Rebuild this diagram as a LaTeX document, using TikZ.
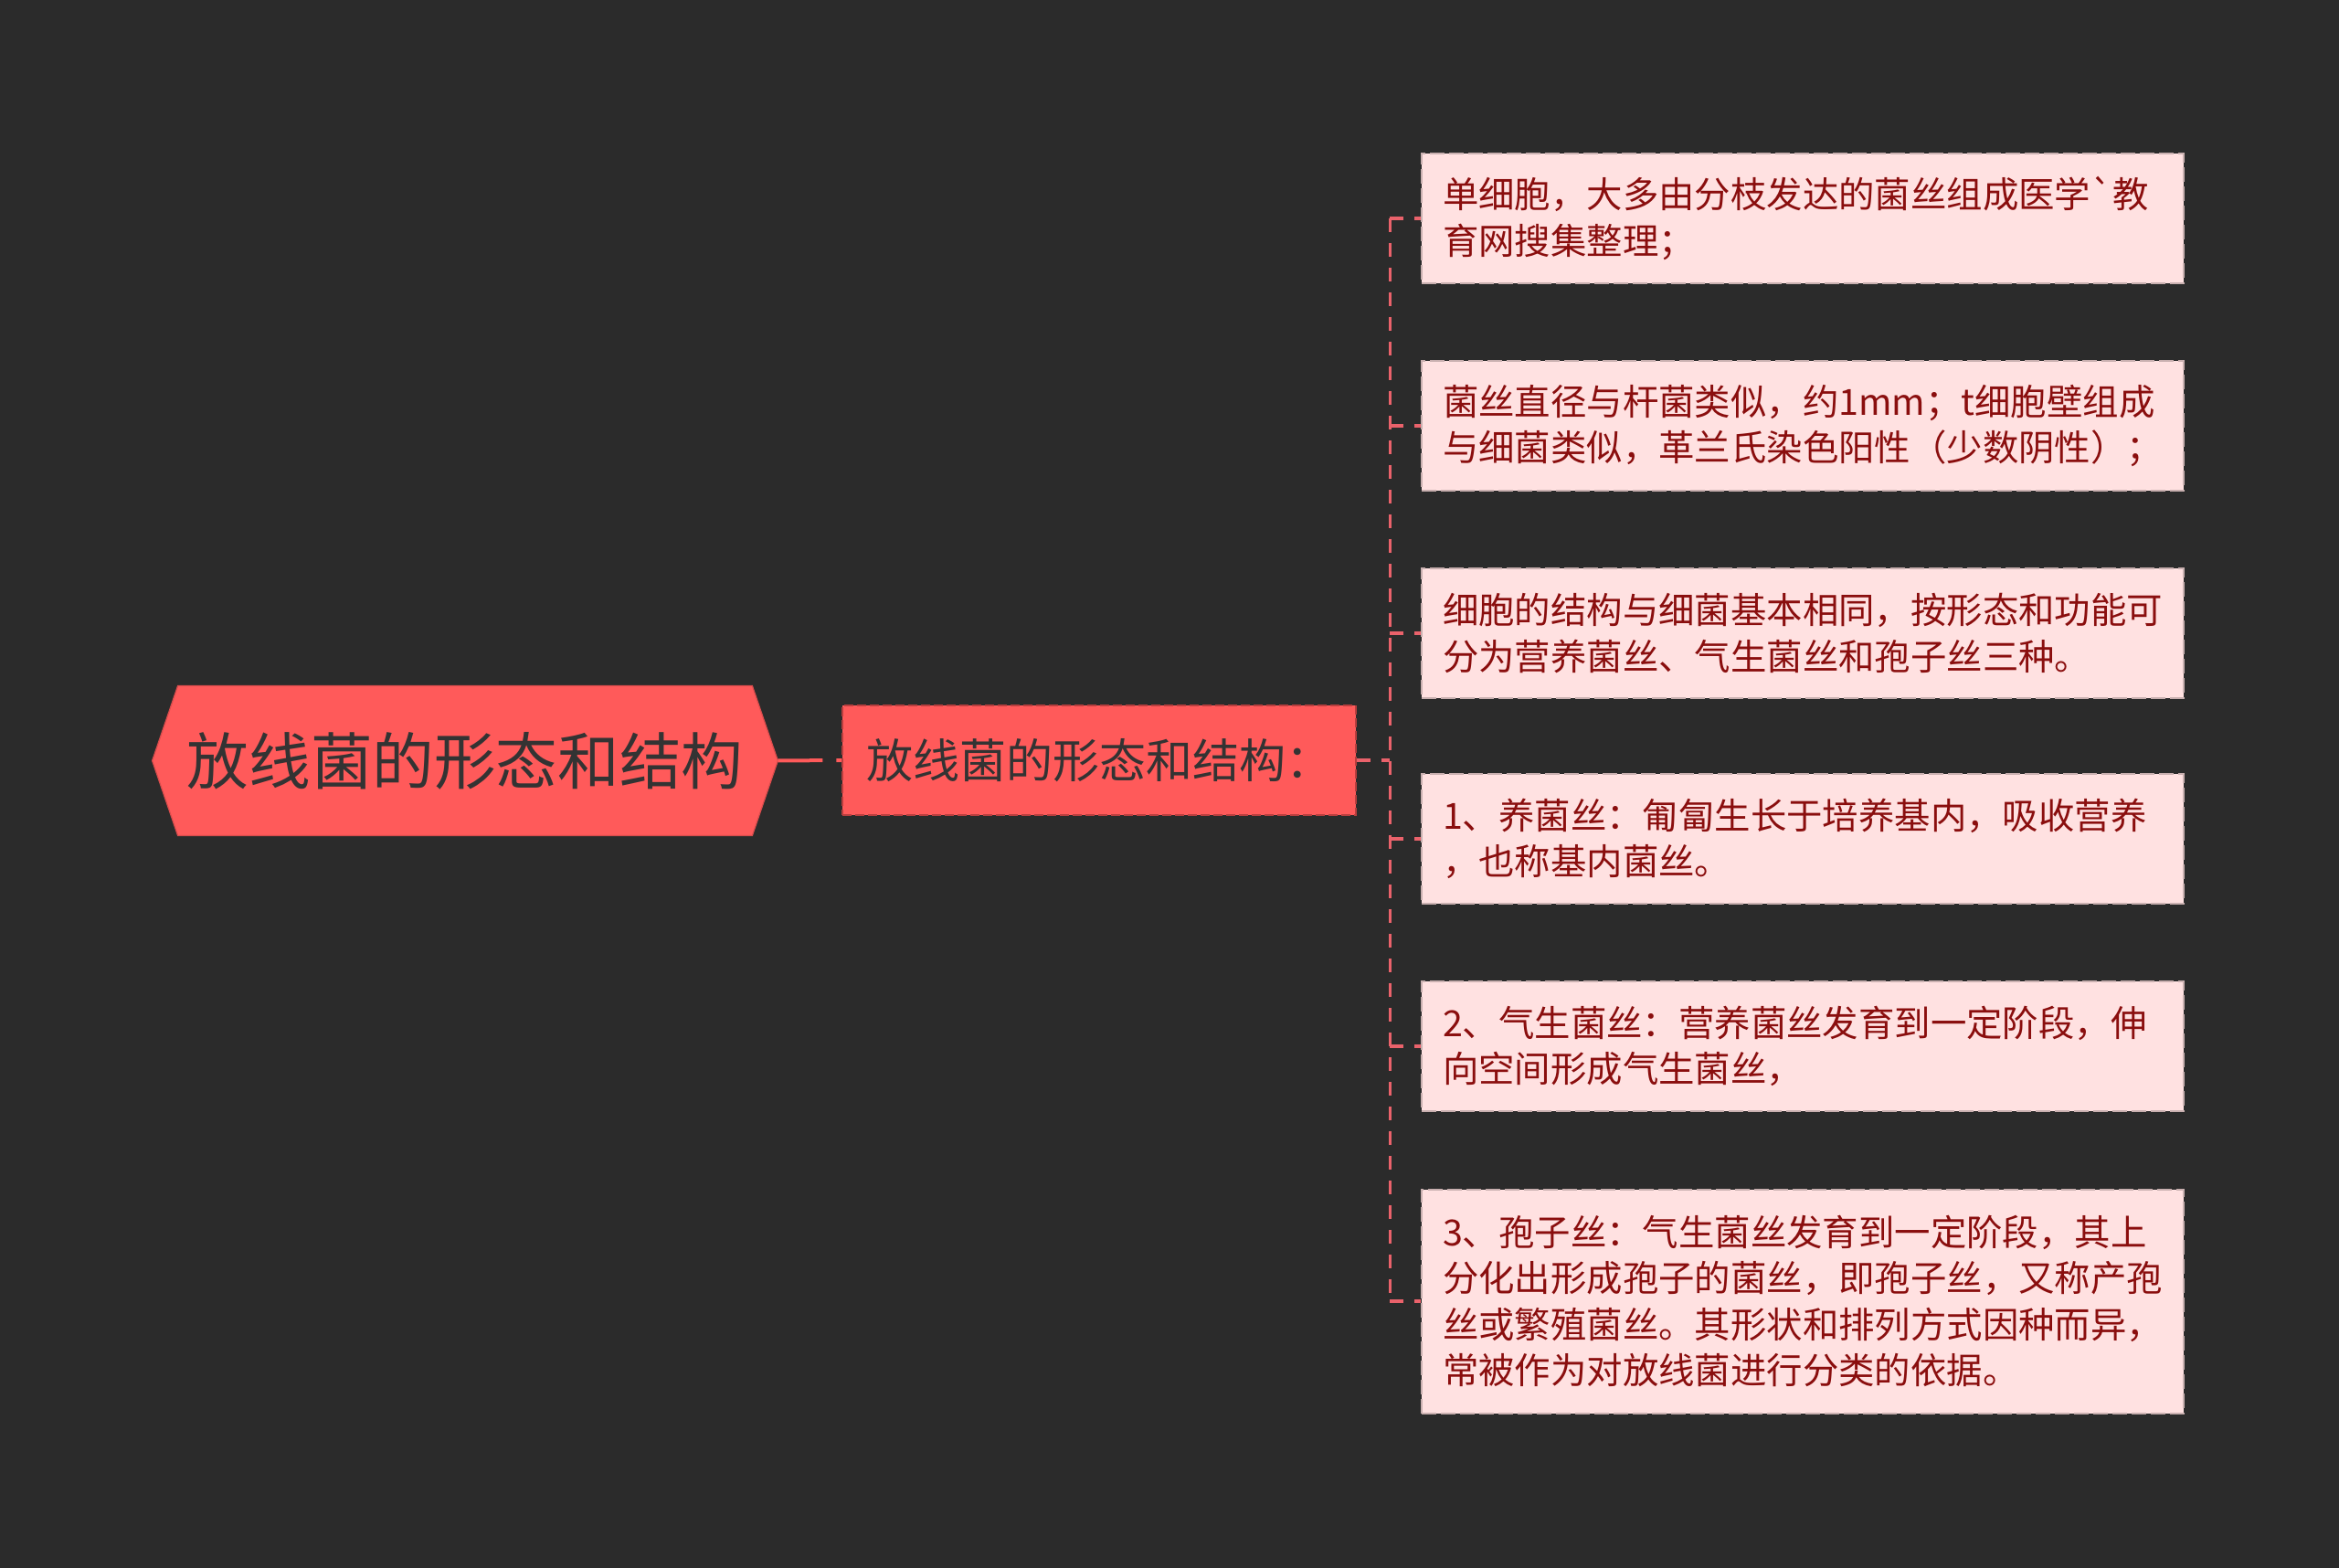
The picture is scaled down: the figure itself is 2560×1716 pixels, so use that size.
\documentclass[tikz,border=0pt]{standalone}
\usepackage{fontspec}
\newfontfamily\cjk{Noto Sans CJK SC}
\usetikzlibrary{calc,backgrounds}
\definecolor{bg}{HTML}{2B2B2B}
\definecolor{rootred}{HTML}{FF5A5A}
\definecolor{midborder}{HTML}{B83E3E}
\definecolor{leaffill}{HTML}{FFE1E1}
\definecolor{leafborder}{HTML}{C9B0B0}
\definecolor{leaftext}{HTML}{8A0E0E}
\definecolor{connred}{HTML}{EA626B}
\definecolor{darktext}{HTML}{333333}
\begin{document}
\begin{tikzpicture}[x=0.5pt,y=-0.5pt,
  rootbox/.style={rectangle, inner sep=0pt, minimum width=314pt, minimum height=81.5pt,
    font=\cjk\fontsize{33.8pt}{40pt}\selectfont, text=darktext},
  midbox/.style={rectangle, fill=rootred, draw=midborder, line width=1.2pt,
    dash pattern=on 5pt off 2pt, minimum width=281pt, minimum height=60pt, inner sep=0pt,
    font=\cjk\fontsize{25.5pt}{30pt}\selectfont, text=darktext},
  leafbox/.style={rectangle, fill=leaffill, draw=leafborder, line width=1pt,
    dash pattern=on 8pt off 2.5pt, text width=394pt, inner xsep=11.5pt, inner ysep=0pt,
    minimum height=71pt, align=left,
    font=\cjk\fontsize{19.7pt}{25.3pt}\selectfont, text=leaftext},
  connline/.style={draw=connred, line width=1.6pt, dash pattern=on 7.5pt off 6pt},
  rootline/.style={draw=rootred, line width=2pt, dash pattern=on 24.5pt off 7.5pt},
]
\useasboundingbox (0,0) rectangle (2560,1716);

% root
\node[rootbox] (root) at (509,832.5) {放线菌的形态和结构};
\coordinate (rootR) at ($(root.east)+(28,0)$);
\coordinate (rootL) at ($(root.west)+(-28,0)$);

% middle
\node[midbox] (mid) at (1203,832) {放线菌的形态和结构：};
\coordinate (bus) at ($(mid.east)+(36,0)$);

% leaves
\node[leafbox] (l1) at (1973,239) {单细胞，大多由分枝发达的菌丝组成医学`教\\育网搜集整理；};
\node[leafbox] (l2) at (1973,466) {菌丝直径与杆菌类似，约1mm；t细胞壁组成\\与细菌类似，革兰氏染色阳性（少数阴性）；};
\node[leafbox] (l3) at (1973,693) {细胞的结构与细菌基本相同，按形态和功能可\\分为营养菌丝、气生菌丝和孢子丝三种。};
\node[leafbox] (l4) at (1973,918) {1、养菌丝：匍匐生长于培养基内，吸收营养\\，也称基内菌丝。};
\node[leafbox] (l5) at (1973,1145) {2、气生菌丝：营养菌丝发育到一定阶段，伸\\向空间形成气生菌丝，};
\node[leafbox, minimum height=122.5pt] (l6) at (1973,1424) {3、孢子丝：气生菌丝发育到一定阶段，其上\\分化出形成孢子的菌丝，即孢子丝，又称产孢\\丝或繁殖菌丝。其形状和排列方式因种而异，\\常被作为对放线菌进行分类的依据。};

\begin{scope}[on background layer]
  \fill[bg] (0,0) rectangle (2560,1716);
  \fill[rootred, draw=rootred!85!black, line width=0.6pt]
    (root.north west) -- (root.north east) -- (rootR) -- (root.south east)
    -- (root.south west) -- (rootL) -- cycle;
\end{scope}

% connectors
\draw[rootline] (rootR) -- (mid.west);
\draw[connline] (mid.east) -- (bus);
\draw[connline] (bus |- l1.west) -- (bus |- l6.west);
\foreach \i in {1,...,6} {
  \draw[connline] (bus |- l\i.west) -- (l\i.west);
}
\end{tikzpicture}
\end{document}
